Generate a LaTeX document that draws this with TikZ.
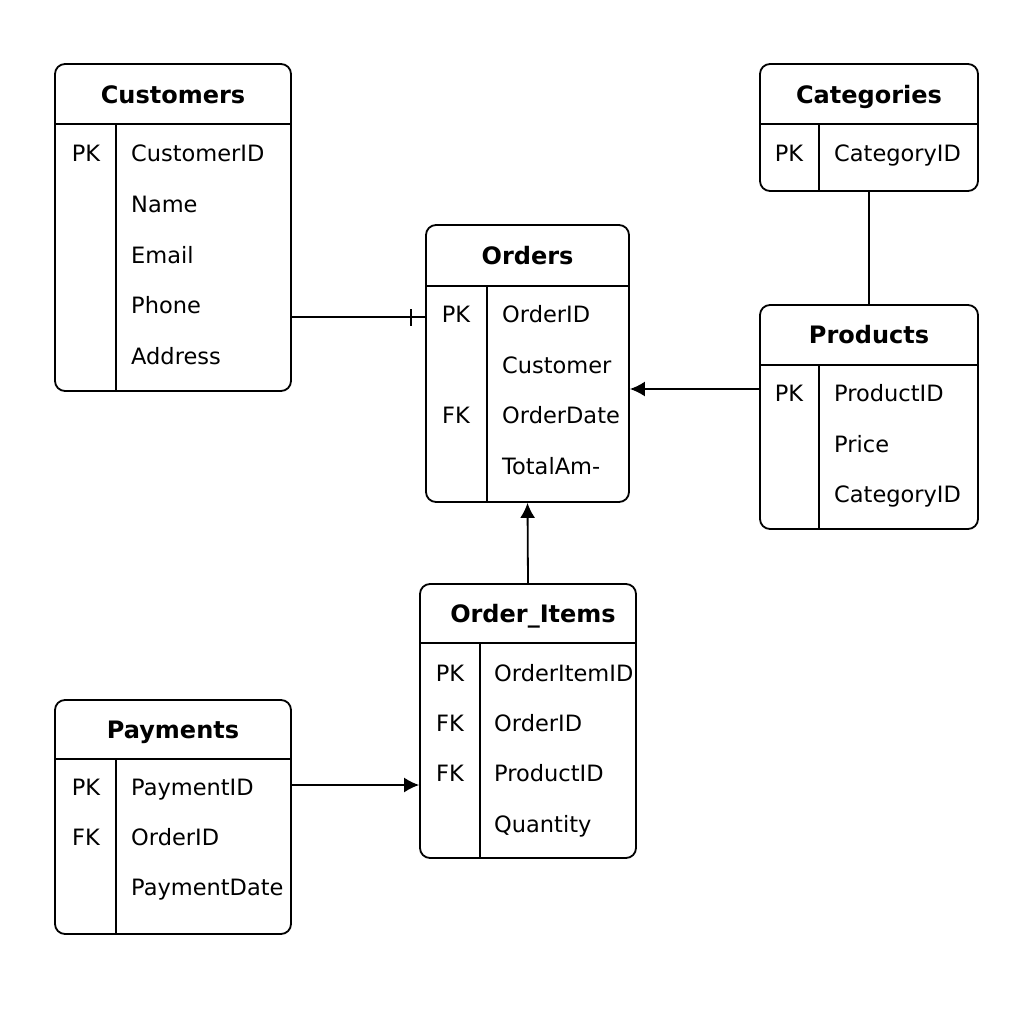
\documentclass[tikz,border=0pt]{standalone}
\usepackage{fontspec}
\setmainfont{DejaVu Sans}
\usetikzlibrary{arrows.meta}
\begin{document}
\begin{tikzpicture}[x=1pt,y=-1pt,
  tbl/.style={draw,line width=1.8pt,rounded corners=10pt,inner sep=0pt},
  sep/.style={line width=1.8pt},
  ttl/.style={font=\fontsize{24}{28}\selectfont\bfseries,inner sep=0pt,text height=17.5pt,text depth=0pt},
  fld/.style={font=\fontsize{22.5}{26}\selectfont,anchor=west,inner sep=0pt,text height=16.4pt,text depth=0pt},
  key/.style={font=\fontsize{22.5}{26}\selectfont,inner sep=0pt,text height=16.4pt,text depth=0pt},
  conn/.style={line width=1.8pt},
  arr/.style={line width=1.8pt,-{Latex[length=15pt,width=15pt]}}]
\fill[white] (0,0) rectangle (1024,1024);
\useasboundingbox (0,0) rectangle (1024,1024);

% Customers
\node[tbl,minimum width=236pt,minimum height=327pt] (cust) at (173,227.5) {};
\draw[sep] (cust.west |- 0,124) -- (cust.east |- 0,124);
\draw[sep] (116,124) -- (116,391);
\node[ttl] (custT) at (173,95) {Customers};
\node[key] (custK1) at (86,153) {PK};
\node[fld] (custF1) at (131,153) {CustomerID};
\node[fld] (custF2) at (131,204) {Name};
\node[fld] (custF3) at (131,255) {Email};
\node[fld] (custF4) at (131,305) {Phone};
\node[fld] (custF5) at (131,356) {Address};

% Categories
\node[tbl,minimum width=218pt,minimum height=127pt] (cat) at (869,127.5) {};
\draw[sep] (cat.west |- 0,124) -- (cat.east |- 0,124);
\draw[sep] (819,124) -- (819,191);
\node[ttl] (catT) at (869,95) {Categories};
\node[key] (catK1) at (789,153) {PK};
\node[fld] (catF1) at (834,153) {CategoryID};

% Orders
\node[tbl,minimum width=203pt,minimum height=277pt] (ord) at (527.5,363.5) {};
\draw[sep] (ord.west |- 0,286) -- (ord.east |- 0,286);
\draw[sep] (487,286) -- (487,502);
\node[ttl] (ordT) at (527.5,256) {Orders};
\node[key] (ordK1) at (456,314) {PK};
\node[key] (ordK3) at (456,415) {FK};
\node[fld] (ordF1) at (502,314) {OrderID};
\node[fld] (ordF2) at (502,365) {Customer};
\node[fld] (ordF3) at (502,415) {OrderDate};
\node[fld] (ordF4) at (502,466) {TotalAm-};

% Products
\node[tbl,minimum width=218pt,minimum height=224pt] (prod) at (869,417) {};
\draw[sep] (prod.west |- 0,365) -- (prod.east |- 0,365);
\draw[sep] (819,365) -- (819,529);
\node[ttl] (prodT) at (869,335) {Products};
\node[key] (prodK1) at (789,393) {PK};
\node[fld] (prodF1) at (834,393) {ProductID};
\node[fld] (prodF2) at (834,444) {Price};
\node[fld] (prodF3) at (834,494) {CategoryID};

% Order_Items
\node[tbl,minimum width=216pt,minimum height=274pt] (oi) at (528,721) {};
\draw[sep] (oi.west |- 0,643) -- (oi.east |- 0,643);
\draw[sep] (480,643) -- (480,858);
\node[ttl] (oiT) at (533,614) {Order\_Items};
\node[key] (oiK1) at (450,673) {PK};
\node[key] (oiK2) at (450,723) {FK};
\node[key] (oiK3) at (450,773) {FK};
\node[fld] (oiF1) at (494,673) {OrderItemID};
\node[fld] (oiF2) at (494,723) {OrderID};
\node[fld] (oiF3) at (494,773) {ProductID};
\node[fld] (oiF4) at (494,824) {Quantity};

% Payments
\node[tbl,minimum width=236pt,minimum height=234pt] (pay) at (173,817) {};
\draw[sep] (pay.west |- 0,759) -- (pay.east |- 0,759);
\draw[sep] (116,759) -- (116,934);
\node[ttl] (payT) at (173,730) {Payments};
\node[key] (payK1) at (86,787) {PK};
\node[key] (payK2) at (86,837) {FK};
\node[fld] (payF1) at (131,787) {PaymentID};
\node[fld] (payF2) at (131,837) {OrderID};
\node[fld] (payF3) at (131,887) {PaymentDate};

% Connectors
\draw[conn] (cust.east |- 0,317) -- (ord.west |- 0,317);
\coordinate (tick) at (411,317);
\draw[conn] ([yshift=8pt]tick) -- ([yshift=-9pt]tick);
\draw[conn] (cat.south) -- (prod.north);
\draw[arr] (prod.west |- 0,389) -- (ord.east |- 0,389);
\draw[arr] (oi.north) -- (ord.south);
\draw[arr] (pay.east |- 0,785) -- (oi.west |- 0,785);
\end{tikzpicture}
\end{document}
